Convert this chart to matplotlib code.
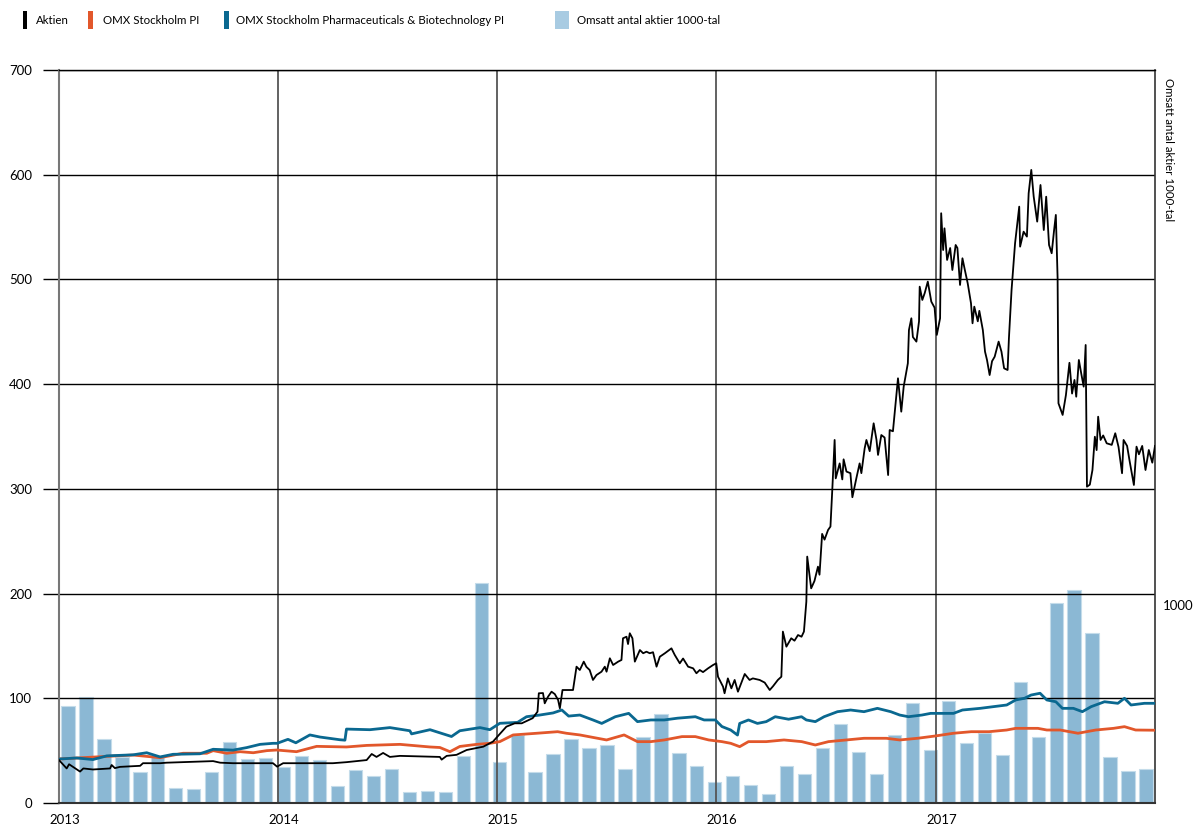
import matplotlib
matplotlib.use('Agg')
from matplotlib import pyplot as plt
from matplotlib.patches import Rectangle
import matplotlib.dates as mdates
import matplotlib.transforms as mtransforms
import numpy as np
import pandas as pd

plt.rcParams['font.family'] = ['Lato', 'DejaVu Sans']

# monthly volume (1000-tal), one bar per month
months = pd.date_range('2013-01-01', periods=61, freq='MS')
volume = [490, 537, 325, 234, 157, 237, 74, 69, 155, 307, 221, 226,
          183, 236, 217, 84, 167, 135, 170, 56, 59, 54, 237, 1109,
          207, 345, 157, 249, 323, 278, 291, 170, 333, 448, 253, 189,
          106, 138, 89, 44, 187, 145, 279, 397, 256, 146, 342, 505,
          266, 517, 305, 354, 244, 610, 333, 1010, 1077, 857, 232, 162,
          172]

# share price (time as decimal year)
aktien_t = [2013.000, 2013.035, 2013.046, 2013.096, 2013.111, 2013.155, 2013.233, 2013.240,
            2013.255, 2013.278, 2013.370, 2013.383, 2013.461, 2013.491, 2013.703, 2013.735,
            2013.794, 2013.976, 2013.995, 2014.023, 2014.099, 2014.250, 2014.312, 2014.404,
            2014.427, 2014.449, 2014.479, 2014.510, 2014.556, 2014.738, 2014.746, 2014.769,
            2014.814, 2014.860, 2014.936, 2014.980, 2015.042, 2015.080, 2015.112, 2015.162,
            2015.184, 2015.190, 2015.209, 2015.217, 2015.232, 2015.248, 2015.263, 2015.278,
            2015.286, 2015.298, 2015.346, 2015.362, 2015.377, 2015.395, 2015.407, 2015.422,
            2015.437, 2015.453, 2015.476, 2015.491, 2015.499, 2015.514, 2015.529, 2015.552,
            2015.567, 2015.574, 2015.590, 2015.597, 2015.605, 2015.617, 2015.628, 2015.651,
            2015.666, 2015.681, 2015.696, 2015.711, 2015.727, 2015.742, 2015.765, 2015.795,
            2015.810, 2015.833, 2015.848, 2015.871, 2015.894, 2015.909, 2015.924, 2015.939,
            2015.962, 2015.985, 2016.000, 2016.008, 2016.031, 2016.038, 2016.053, 2016.069,
            2016.084, 2016.099, 2016.130, 2016.152, 2016.167, 2016.198, 2016.221, 2016.244,
            2016.259, 2016.281, 2016.297, 2016.304, 2016.320, 2016.342, 2016.357, 2016.373,
            2016.389, 2016.400, 2016.411, 2016.415, 2016.433, 2016.448, 2016.464, 2016.471,
            2016.483, 2016.494, 2016.510, 2016.521, 2016.530, 2016.540, 2016.545, 2016.563,
            2016.575, 2016.581, 2016.594, 2016.612, 2016.621, 2016.639, 2016.654, 2016.662,
            2016.677, 2016.685, 2016.700, 2016.718, 2016.731, 2016.738, 2016.753, 2016.768,
            2016.784, 2016.791, 2016.806, 2016.818, 2016.829, 2016.837, 2016.844, 2016.855,
            2016.874, 2016.879, 2016.890, 2016.897, 2016.913, 2016.925, 2016.928, 2016.940,
            2016.951, 2016.965, 2016.981, 2016.996, 2017.004, 2017.019, 2017.024, 2017.033,
            2017.039, 2017.051, 2017.065, 2017.075, 2017.090, 2017.098, 2017.110, 2017.121,
            2017.132, 2017.145, 2017.160, 2017.167, 2017.175, 2017.191, 2017.198, 2017.214,
            2017.224, 2017.233, 2017.245, 2017.256, 2017.268, 2017.286, 2017.299, 2017.311,
            2017.327, 2017.333, 2017.345, 2017.361, 2017.380, 2017.384, 2017.400, 2017.415,
            2017.423, 2017.435, 2017.446, 2017.462, 2017.477, 2017.492, 2017.503, 2017.516,
            2017.528, 2017.539, 2017.547, 2017.555, 2017.559, 2017.578, 2017.593, 2017.609,
            2017.621, 2017.632, 2017.640, 2017.652, 2017.663, 2017.674, 2017.683, 2017.689,
            2017.702, 2017.714, 2017.725, 2017.733, 2017.740, 2017.751, 2017.763, 2017.779,
            2017.802, 2017.818, 2017.833, 2017.849, 2017.856, 2017.872, 2017.884, 2017.903,
            2017.915, 2017.926, 2017.941, 2017.956, 2017.971, 2017.987, 2018.000]
aktien_v = [41, 33, 37, 30, 33, 32, 33, 36.3,
            33.3, 34.5, 35.5, 38, 38, 38.5, 40, 38.5,
            38, 38, 34.7, 38, 38, 38, 39, 41,
            46.8, 44, 47.8, 44, 45, 44, 41.4, 45,
            46, 50.6, 53.8, 58.6, 72.9, 76.1, 76.1, 81,
            87.2, 104.8, 105, 95.2, 101.5, 106.3, 104, 98.4,
            90.4, 107.9, 107.9, 130.2, 127, 135, 130, 127,
            117.5, 122.2, 125.4, 130.2, 125.4, 138.2, 131.8, 135,
            136.6, 157.3, 158.8, 151.8, 162.1, 157.3, 135, 146.1,
            143, 144.5, 143, 144, 130.2, 139.7, 143, 147.7,
            141.4, 133.4, 138, 130.2, 128.6, 123.9, 127, 125,
            128.6, 131.8, 133.4, 120.6, 111.1, 104.8, 119, 109.5,
            117.5, 106.3, 123.2, 117.5, 119, 117.5, 115, 107.9,
            111.5, 117.5, 120.6, 163.7, 149.3, 157.3, 155, 160.4,
            158.8, 163.7, 192.3, 235.3, 205, 212, 225.7, 218,
            257, 251.5, 260.7, 264, 302, 346.7, 310, 324.3,
            309, 328.2, 316.5, 315, 292, 310, 324.3, 315,
            338.7, 346.7, 336, 362.6, 346.7, 332.4, 351.4, 349,
            313.2, 356.2, 355, 381.7, 405.6, 388, 373.7, 397.6,
            419.9, 451.7, 462.9, 445, 440.6, 460, 493.1, 480.4,
            487, 497.9, 478.8, 473, 447, 462.9, 563.2, 528.1,
            548.8, 518.6, 530, 509, 532.9, 530, 494.7, 520.2,
            509, 496.3, 477.2, 458.1, 474, 460, 470, 451.7,
            431, 423.1, 408.7, 421.9, 426.2, 440.6, 431, 415.1,
            413.5, 443.8, 489.9, 534.5, 569.5, 531.3, 545.6, 540.9,
            582.3, 604.6, 579.1, 555.2, 590.2, 547.2, 579, 532.9,
            525, 547, 561.6, 501.6, 381.7, 370.6, 389.6, 420.4,
            391, 404, 388, 423.1, 410, 397.6, 437.4, 302.1,
            304, 318, 349.8, 337, 368.9, 346.7, 351, 343.5,
            342, 353.1, 340, 314.9, 346.7, 341, 326, 303.7,
            340.3, 333, 341, 318, 337.1, 325, 341]

# OMX Stockholm PI (rebased)
omx_t = [2013.000, 2013.187, 2013.338, 2013.461, 2013.566, 2013.674, 2013.703, 2013.765,
         2013.826, 2013.886, 2013.948, 2013.993, 2014.084, 2014.176, 2014.312, 2014.404,
         2014.556, 2014.693, 2014.738, 2014.784, 2014.829, 2014.906, 2014.966, 2015.012,
         2015.073, 2015.174, 2015.276, 2015.316, 2015.377, 2015.499, 2015.579, 2015.640,
         2015.701, 2015.762, 2015.843, 2015.904, 2015.965, 2016.026, 2016.066, 2016.107,
         2016.147, 2016.228, 2016.309, 2016.390, 2016.452, 2016.512, 2016.593, 2016.674,
         2016.776, 2016.837, 2016.918, 2016.999, 2017.080, 2017.161, 2017.242, 2017.323,
         2017.364, 2017.465, 2017.506, 2017.567, 2017.648, 2017.729, 2017.810, 2017.860,
         2017.911, 2018.000]
omx_v = [42, 44.2, 45.8, 43.3, 47.5, 47.5, 50, 47.5,
         49, 48, 50, 50.6, 49, 54.1, 53.5, 55,
         56, 53.5, 53, 49, 54, 56, 57, 58.6,
         65, 66.5, 68.1, 66.6, 65, 60.2, 65, 58.6,
         58.6, 60.2, 63.4, 63.4, 60.2, 58.6, 57, 53.8,
         58.6, 58.6, 60.2, 58.6, 55.4, 58.6, 60.2, 61.8,
         61.8, 60.2, 61.8, 64, 66.6, 68.1, 68.1, 69.7,
         71.3, 71.3, 69.7, 69.7, 66.6, 69.7, 71.3, 72.9,
         69.7, 69.5]

# OMX Stockholm Pharmaceuticals & Biotechnology PI (rebased)
pharma_t = [2013.000, 2013.081, 2013.155, 2013.218, 2013.338, 2013.400, 2013.461, 2013.520,
            2013.643, 2013.703, 2013.794, 2013.856, 2013.917, 2013.976, 2013.995, 2014.045,
            2014.081, 2014.145, 2014.191, 2014.282, 2014.305, 2014.312, 2014.419, 2014.510,
            2014.601, 2014.609, 2014.693, 2014.791, 2014.829, 2014.921, 2014.966, 2015.012,
            2015.093, 2015.134, 2015.194, 2015.255, 2015.295, 2015.326, 2015.377, 2015.437,
            2015.477, 2015.539, 2015.600, 2015.640, 2015.701, 2015.762, 2015.823, 2015.904,
            2015.944, 2015.995, 2016.026, 2016.066, 2016.097, 2016.107, 2016.147, 2016.188,
            2016.228, 2016.269, 2016.330, 2016.389, 2016.411, 2016.452, 2016.492, 2016.553,
            2016.613, 2016.674, 2016.735, 2016.796, 2016.837, 2016.877, 2016.938, 2016.978,
            2017.039, 2017.080, 2017.121, 2017.202, 2017.262, 2017.323, 2017.364, 2017.404,
            2017.434, 2017.475, 2017.506, 2017.547, 2017.577, 2017.627, 2017.668, 2017.708,
            2017.769, 2017.830, 2017.860, 2017.890, 2017.951, 2018.000]
pharma_v = [42, 43, 41.5, 45, 46, 48, 44, 46.5,
            47, 51.3, 50.5, 52.9, 56, 57, 57, 60.8,
            57.5, 65, 63, 60.4, 60, 70.6, 70, 72,
            69, 66, 70, 63.5, 69, 72, 70, 76.1,
            77, 82.4, 84, 86, 88.8, 83, 84, 79.3,
            76, 82.4, 85.6, 77.7, 79.3, 79.3, 81, 82.4,
            79.3, 79.3, 73, 69.7, 64.9, 76, 79.3, 76,
            77.7, 82.4, 80, 82.4, 79.3, 77.7, 82.4, 87.2,
            88.8, 87.2, 90.4, 87.2, 84, 82.4, 84, 85.6,
            85.6, 85.6, 88.8, 90.4, 92, 93.6, 98.4, 100,
            103.1, 104.8, 98.4, 96.7, 90.4, 90.4, 87.2, 92,
            96.7, 95.2, 100, 93.6, 95.2, 95.2]

years = [2013, 2014, 2015, 2016, 2017]

bar_color = '#8bb8d4'
orange = '#e2572b'
blue = '#0a6890'


def to_dates(ts):
    out = []
    for t in ts:
        y = int(t)
        out.append(pd.Timestamp(year=y, month=1, day=1) + pd.Timedelta(days=(t - y) * 365.25))
    return out


W, H = 1194, 830
fig = plt.figure(figsize=(W / 100, H / 100), dpi=100)
rect = [59 / W, 1 - 803 / H, (1155 - 59) / W, (803 - 70) / H]

# bars in a background axes with their own (categorical) x scale
ax_bar = fig.add_axes(rect, frameon=False)
ax_bar.bar(np.arange(len(volume)), volume, width=0.74, color=bar_color,
           edgecolor='#c4dcea', linewidth=0.8)
ax_bar.set_xlim(-0.5, len(volume) - 0.5)
ax_bar.set_ylim(0, 3700)
ax_bar.set_xticks([])
ax_bar.yaxis.tick_right()
ax_bar.set_yticks([1000])
ax_bar.set_yticklabels(['1000'])
ax_bar.tick_params(axis='y', length=0, pad=6, labelsize=9.5)

# price lines
ax = fig.add_axes(rect)
ax.patch.set_alpha(0)
ax.plot(to_dates(omx_t), omx_v, color=orange, lw=2.0, zorder=3)
ax.plot(to_dates(pharma_t), pharma_v, color=blue, lw=2.0, zorder=4)
ax.plot(to_dates(aktien_t), aktien_v, color='black', lw=1.3, zorder=5)

ax.set_xlim(pd.Timestamp('2013-01-01'), pd.Timestamp('2018-01-01'))
ax.set_ylim(0, 700)
ax.set_yticks(np.arange(0, 701, 100))
ax.set_xticks([pd.Timestamp(year=y, month=1, day=1) for y in years])
ax.xaxis.set_major_formatter(mdates.DateFormatter('%Y'))
ax.grid(axis='y', color='black', lw=1.0)
ax.grid(axis='x', color='#555555', lw=1.3)
ax.tick_params(axis='y', length=11.5, width=1.0, color='black', pad=8, labelsize=9.5)
ax.tick_params(axis='x', length=0, pad=8, labelsize=9.5)
offset = mtransforms.ScaledTranslation(6 / 100, 0, fig.dpi_scale_trans)
for lab in ax.get_xticklabels():
    lab.set_transform(lab.get_transform() + offset)
ax.spines['left'].set_color('#777777')
ax.spines['left'].set_linewidth(1.5)
ax.spines['bottom'].set_color('#333333')
ax.spines['bottom'].set_linewidth(1.5)
ax.spines['top'].set_color('black')
ax.spines['top'].set_linewidth(1.0)
ax.spines['right'].set_color('#333333')
ax.spines['right'].set_linewidth(1.2)

fig.text(1163 / W, 1 - 78 / H, 'Omsatt antal aktier 1000-tal', rotation=270,
         ha='left', va='top', fontsize=8.3)

# legend along the top
legend_items = [('Aktien', 'black', 22.7, 4.6, 35.7),
                ('OMX Stockholm PI', orange, 88.3, 4.6, 102.7),
                ('OMX Stockholm Pharmaceuticals & Biotechnology PI', blue, 224, 4.6, 236.5),
                ('Omsatt antal aktier 1000-tal', '#a8cbe2', 555, 14, 577)]
for label, col, sx, sw, tx in legend_items:
    fig.add_artist(Rectangle((sx / W, 1 - 29 / H), sw / W, 18 / H,
                             transform=fig.transFigure, color=col, lw=0))
    fig.text(tx / W, 1 - 20 / H, label, ha='left', va='center', fontsize=8.3)

fig.savefig('out.png', dpi=100)
